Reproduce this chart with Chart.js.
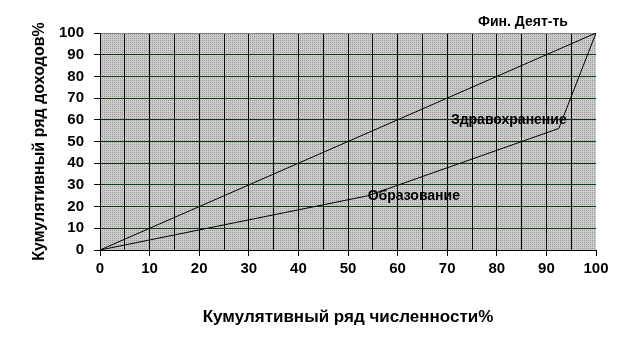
<!DOCTYPE html>
<html><head><meta charset="utf-8">
<script src="https://cdn.jsdelivr.net/npm/chart.js@4/dist/chart.umd.min.js"></script>
<style>html,body{margin:0;padding:0;background:#fff}</style>
</head><body>
<canvas id="c" width="629" height="351" style="width:629px;height:351px;display:block"></canvas>
<script>
// ---- data ----
const equalityX = [0, 100];
const equalityY = [0, 100];
const lorenzX = [0, 54, 92.5, 100];
const lorenzY = [0, 25, 56, 100];
const sectorLabels = ['Образование', 'Здравохранение', 'Фин. Деят-ть'];
const yTicks = [0, 10, 20, 30, 40, 50, 60, 70, 80, 90, 100];
const xTicks = [0, 10, 20, 30, 40, 50, 60, 70, 80, 90, 100];
const xTitle = 'Кумулятивный ряд численности%';
const yTitle = 'Кумулятивный ряд доходов%';

const FONT = '"Liberation Sans", Arial, sans-serif';

// dotted gray plot background pattern
const pc = document.createElement('canvas');
pc.width = 2; pc.height = 2;
const pctx = pc.getContext('2d');
pctx.fillStyle = '#cbcbcb'; pctx.fillRect(0, 0, 2, 2);
pctx.fillStyle = '#9c9c9c'; pctx.fillRect(0, 0, 1, 1);

const bgPlugin = {
  id: 'bg',
  beforeDraw(chart) {
    const {ctx, chartArea: a} = chart;
    ctx.save();
    ctx.fillStyle = ctx.createPattern(pc, 'repeat');
    ctx.fillRect(a.left, a.top, a.right - a.left, a.bottom - a.top);
    ctx.restore();
  }
};

const labelOffsets = [[46, 0], [-50, -8], [-73, -11]];
const labelPlugin = {
  id: 'labels',
  afterDatasetsDraw(chart) {
    const {ctx, scales: {x, y}} = chart;
    ctx.save();
    ctx.font = 'bold 14px ' + FONT;
    ctx.fillStyle = '#000';
    ctx.textAlign = 'center';
    ctx.textBaseline = 'middle';
    sectorLabels.forEach((t, i) => {
      const px = x.getPixelForValue(lorenzX[i + 1]) + labelOffsets[i][0];
      const py = y.getPixelForValue(lorenzY[i + 1]) + labelOffsets[i][1];
      ctx.fillText(t, px, py);
    });
    ctx.restore();
  }
};

new Chart(document.getElementById('c'), {
  type: 'scatter',
  data: {
    datasets: [
      {
        data: equalityX.map((v, i) => ({x: v, y: equalityY[i]})),
        showLine: true, borderColor: '#000', borderWidth: 1, pointRadius: 0, tension: 0
      },
      {
        data: lorenzX.map((v, i) => ({x: v, y: lorenzY[i]})),
        showLine: true, borderColor: '#000', borderWidth: 1, pointRadius: 0, tension: 0
      }
    ]
  },
  options: {
    responsive: false,
    animation: false,
    devicePixelRatio: 1,
    layout: {padding: {top: 33, right: 33, left: 0, bottom: 0}},
    plugins: {legend: {display: false}, tooltip: {enabled: false}},
    scales: {
      x: {
        type: 'linear', min: 0, max: 100,
        afterFit(s) { s.height = 101; },
        afterBuildTicks(s) {
          const t = [];
          for (let v = 0; v <= 100; v += 5) t.push({value: v});
          s.ticks = t;
        },
        border: {color: '#000', width: 1},
        grid: {
          color: c => (c.tick && c.tick.value === 100) ? 'rgba(0,0,0,0)' : '#000',
          lineWidth: 1,
          drawTicks: true,
          tickLength: 6,
          tickColor: c => (c.tick && xTicks.includes(c.tick.value)) ? '#000' : 'rgba(0,0,0,0)'
        },
        ticks: {
          color: '#000', padding: 4, maxRotation: 0, autoSkip: false,
          font: {family: FONT, size: 15, weight: 'bold'},
          callback: v => xTicks.includes(v) ? String(v) : ''
        },
        title: {
          display: true, text: xTitle, color: '#000',
          font: {family: FONT, size: 17, weight: 'bold'},
          padding: {top: 0, bottom: 23}
        }
      },
      y: {
        type: 'linear', min: 0, max: 100,
        afterFit(s) { s.width = 100; },
        afterBuildTicks(s) { s.ticks = yTicks.map(v => ({value: v})); },
        border: {color: '#000', width: 1},
        grid: {
          color: c => {
            const v = c.tick && c.tick.value;
            if (v === 0) return '#000';
            if (v === 100) return '#888';
            return '#0b3d0b';
          },
          lineWidth: 1,
          tickLength: 6,
          tickColor: '#000'
        },
        ticks: {
          color: '#000', padding: 10,
          font: {family: FONT, size: 15, weight: 'bold'}
        },
        title: {
          display: true, text: yTitle, color: '#000',
          font: {family: FONT, size: 16, weight: 'bold'},
          padding: {top: 30, bottom: 0}
        }
      }
    }
  },
  plugins: [bgPlugin, labelPlugin]
});
</script>
</body></html>
